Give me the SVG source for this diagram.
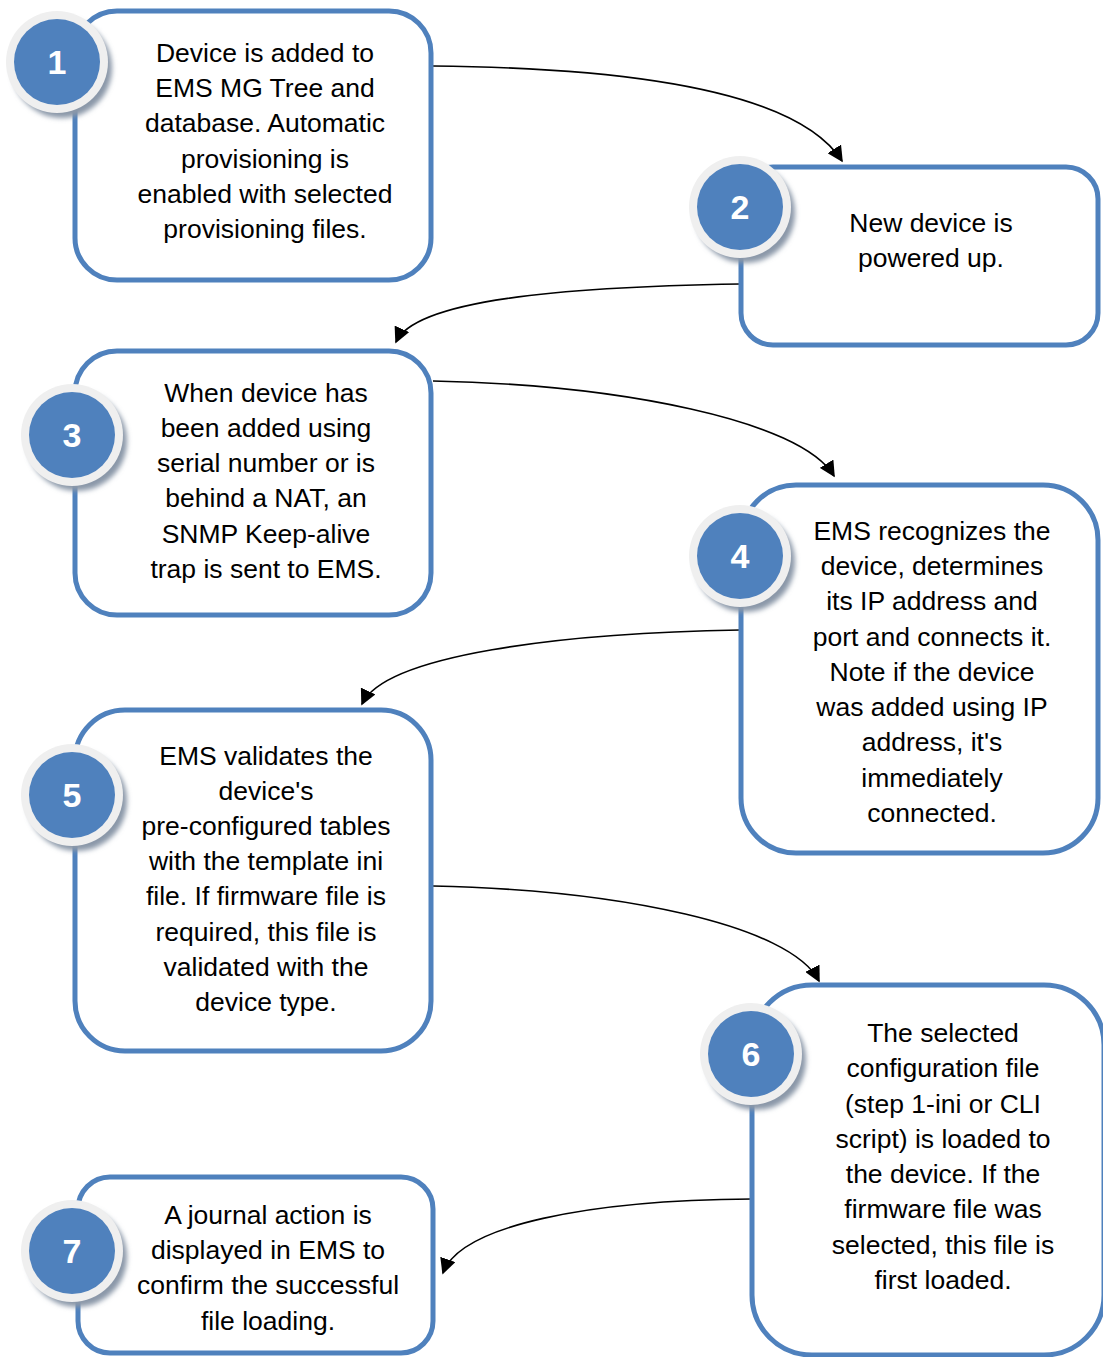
<svg xmlns="http://www.w3.org/2000/svg" width="1103" height="1357" viewBox="0 0 1103 1357">
<defs>
<marker id="arr" viewBox="0 0 10 10" refX="9" refY="5" markerWidth="16" markerHeight="16" markerUnits="userSpaceOnUse" orient="auto">
<path d="M0,0 L10,5 L0,10 z" fill="#000"/>
</marker>
<filter id="sh" x="-30%" y="-30%" width="170%" height="170%">
<feGaussianBlur stdDeviation="2.5"/>
</filter>
</defs>
<style>
.box{fill:#fff;stroke:#4f81bd;stroke-width:5}
.t{font-family:"Liberation Sans",Arial,sans-serif;font-size:26.5px;fill:#000;text-anchor:middle}
.n{font-family:"Liberation Sans",Arial,sans-serif;font-size:34px;font-weight:bold;fill:#fff;text-anchor:middle}
.ring{fill:#efefef}
.dot{fill:#4f81bd}
.shd{fill:#8a97a8;filter:url(#sh)}
.c{fill:none;stroke:#000;stroke-width:1.6}
</style>
<rect width="1103" height="1357" fill="#fff"/>
<g id="connectors">
<path class="c" d="M433,66 C650,68 800,95 842,161" marker-end="url(#arr)"/>
<path class="c" d="M740,284 C560,287 415,300 396,342" marker-end="url(#arr)"/>
<path class="c" d="M433,381 C620,385 800,420 834,476" marker-end="url(#arr)"/>
<path class="c" d="M740,630 C560,633 385,655 362,704" marker-end="url(#arr)"/>
<path class="c" d="M433,886 C620,890 790,925 819,981" marker-end="url(#arr)"/>
<path class="c" d="M752,1199 C590,1200 460,1225 443,1273" marker-end="url(#arr)"/>
</g>
<g id="node1">
<rect class="box" x="75" y="11" width="356" height="269" rx="42"/>
<circle class="shd" cx="62" cy="68" r="50"/>
<circle class="ring" cx="57" cy="62" r="51"/>
<circle class="dot" cx="57" cy="62" r="43"/>
<text class="n" x="57" y="74">1</text>
<text class="t" x="265" y="62">Device is added to</text>
<text class="t" x="265" y="97">EMS MG Tree and</text>
<text class="t" x="265" y="132">database. Automatic</text>
<text class="t" x="265" y="168">provisioning is</text>
<text class="t" x="265" y="203">enabled with selected</text>
<text class="t" x="265" y="238">provisioning files.</text>
</g>
<g id="node2">
<rect class="box" x="741" y="167" width="357" height="178" rx="32"/>
<circle class="shd" cx="745" cy="213" r="50"/>
<circle class="ring" cx="740" cy="207" r="51"/>
<circle class="dot" cx="740" cy="207" r="43"/>
<text class="n" x="740" y="219">2</text>
<text class="t" x="931" y="232">New device is</text>
<text class="t" x="931" y="267">powered up.</text>
</g>
<g id="node3">
<rect class="box" x="75" y="351" width="356" height="264" rx="42"/>
<circle class="shd" cx="77" cy="441" r="50"/>
<circle class="ring" cx="72" cy="435" r="51"/>
<circle class="dot" cx="72" cy="435" r="43"/>
<text class="n" x="72" y="447">3</text>
<text class="t" x="266" y="402">When device has</text>
<text class="t" x="266" y="437">been added using</text>
<text class="t" x="266" y="472">serial number or is</text>
<text class="t" x="266" y="507">behind a NAT, an</text>
<text class="t" x="266" y="543">SNMP Keep-alive</text>
<text class="t" x="266" y="578">trap is sent to EMS.</text>
</g>
<g id="node4">
<rect class="box" x="741" y="485" width="357" height="368" rx="55"/>
<circle class="shd" cx="745" cy="562" r="50"/>
<circle class="ring" cx="740" cy="556" r="51"/>
<circle class="dot" cx="740" cy="556" r="43"/>
<text class="n" x="740" y="568">4</text>
<text class="t" x="932" y="540">EMS recognizes the</text>
<text class="t" x="932" y="575">device, determines</text>
<text class="t" x="932" y="610">its IP address and</text>
<text class="t" x="932" y="646">port and connects it.</text>
<text class="t" x="932" y="681">Note if the device</text>
<text class="t" x="932" y="716">was added using IP</text>
<text class="t" x="932" y="751">address, it's</text>
<text class="t" x="932" y="787">immediately</text>
<text class="t" x="932" y="822">connected.</text>
</g>
<g id="node5">
<rect class="box" x="75" y="710" width="356" height="341" rx="50"/>
<circle class="shd" cx="77" cy="801" r="50"/>
<circle class="ring" cx="72" cy="795" r="51"/>
<circle class="dot" cx="72" cy="795" r="43"/>
<text class="n" x="72" y="807">5</text>
<text class="t" x="266" y="765">EMS validates the</text>
<text class="t" x="266" y="800">device's</text>
<text class="t" x="266" y="835">pre-configured tables</text>
<text class="t" x="266" y="870">with the template ini</text>
<text class="t" x="266" y="905">file. If firmware file is</text>
<text class="t" x="266" y="941">required, this file is</text>
<text class="t" x="266" y="976">validated with the</text>
<text class="t" x="266" y="1011">device type.</text>
</g>
<g id="node6">
<rect class="box" x="752" y="985" width="352" height="370" rx="60"/>
<circle class="shd" cx="756" cy="1060" r="50"/>
<circle class="ring" cx="751" cy="1054" r="51"/>
<circle class="dot" cx="751" cy="1054" r="43"/>
<text class="n" x="751" y="1066">6</text>
<text class="t" x="943" y="1042">The selected</text>
<text class="t" x="943" y="1077">configuration file</text>
<text class="t" x="943" y="1113">(step 1-ini or CLI</text>
<text class="t" x="943" y="1148">script) is loaded to</text>
<text class="t" x="943" y="1183">the device. If the</text>
<text class="t" x="943" y="1218">firmware file was</text>
<text class="t" x="943" y="1254">selected, this file is</text>
<text class="t" x="943" y="1289">first loaded.</text>
</g>
<g id="node7">
<rect class="box" x="78" y="1177" width="355" height="176" rx="32"/>
<circle class="shd" cx="77" cy="1257" r="50"/>
<circle class="ring" cx="72" cy="1251" r="51"/>
<circle class="dot" cx="72" cy="1251" r="43"/>
<text class="n" x="72" y="1263">7</text>
<text class="t" x="268" y="1224">A journal action is</text>
<text class="t" x="268" y="1259">displayed in EMS to</text>
<text class="t" x="268" y="1294">confirm the successful</text>
<text class="t" x="268" y="1330">file loading.</text>
</g>
</svg>
